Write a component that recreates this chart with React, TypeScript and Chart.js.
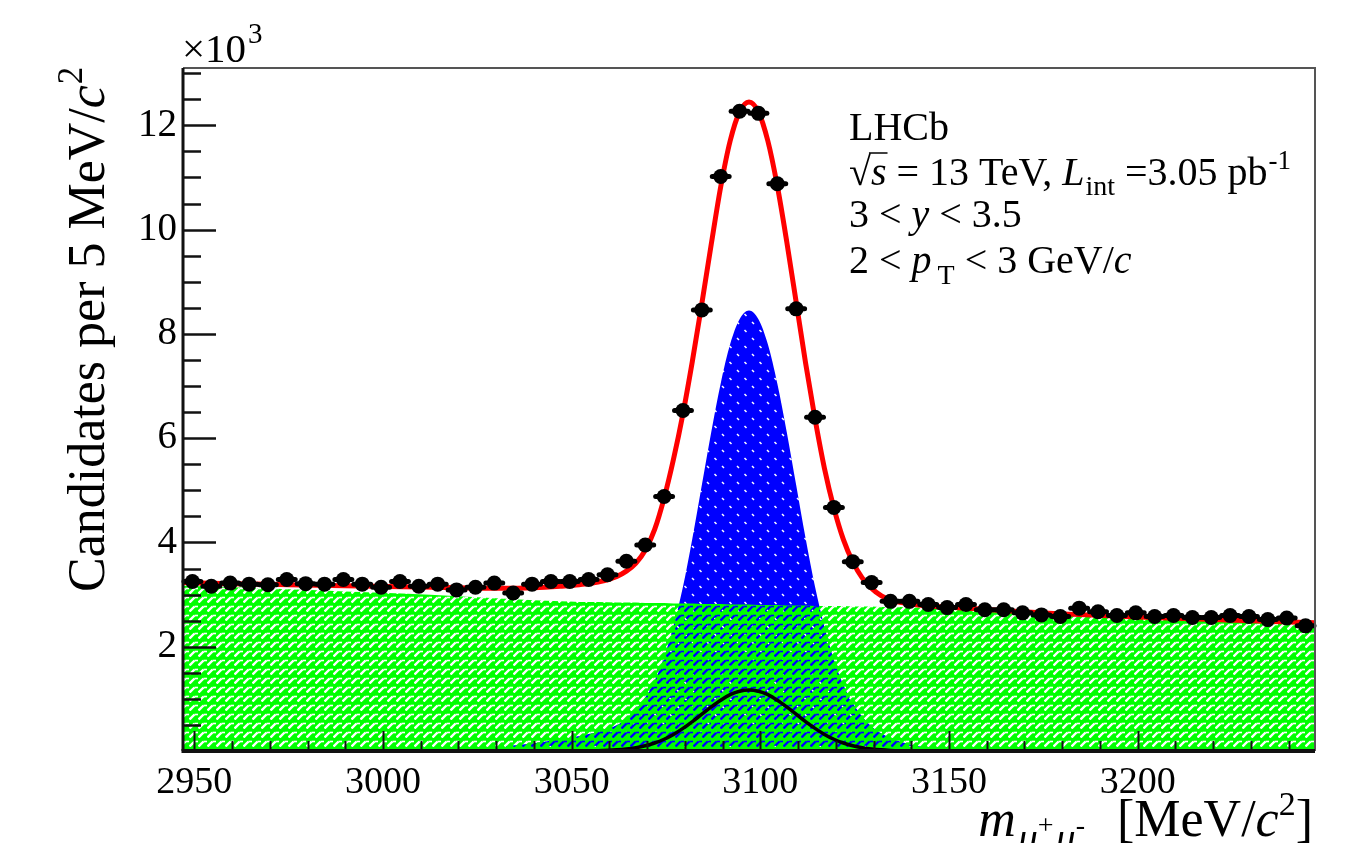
import { useEffect, useRef } from 'react';
import { Chart, registerables } from 'chart.js';

Chart.register(...registerables);

// ---------------- data (y values in units of 10^3 candidates) ----------------
const binCenters = [
  2949.5, 2954.5, 2959.5, 2964.5, 2969.5, 2974.5, 2979.5, 2984.5, 2989.5, 2994.5,
  2999.5, 3004.5, 3009.5, 3014.5, 3019.5, 3024.5, 3029.5, 3034.5, 3039.5, 3044.5,
  3049.5, 3054.5, 3059.5, 3064.5, 3069.5, 3074.5, 3079.5, 3084.5, 3089.5, 3094.5,
  3099.5, 3104.5, 3109.5, 3114.5, 3119.5, 3124.5, 3129.5, 3134.5, 3139.5, 3144.5,
  3149.5, 3154.5, 3159.5, 3164.5, 3169.5, 3174.5, 3179.5, 3184.5, 3189.5, 3194.5,
  3199.5, 3204.5, 3209.5, 3214.5, 3219.5, 3224.5, 3229.5, 3234.5, 3239.5, 3244.5,
];
const candidates = [
  3.25, 3.16, 3.22, 3.2, 3.19, 3.29, 3.21, 3.2, 3.29, 3.2,
  3.14, 3.25, 3.16, 3.2, 3.09, 3.14, 3.22, 3.03, 3.2, 3.25,
  3.25, 3.29, 3.38, 3.64, 3.95, 4.88, 6.53, 8.46, 11.02, 12.27,
  12.23, 10.88, 8.48, 6.4, 4.67, 3.63, 3.23, 2.87, 2.87, 2.81,
  2.75, 2.81, 2.71, 2.71, 2.65, 2.61, 2.58, 2.74, 2.67, 2.6,
  2.65, 2.58, 2.6, 2.56, 2.56, 2.6, 2.58, 2.52, 2.55, 2.4,
];

const fitMass = [
  2947, 2960, 2975, 2990, 3005, 3020, 3030, 3040, 3047, 3052,
  3057, 3062, 3064.5, 3067, 3069.5, 3072, 3074.5, 3077, 3079.5, 3082,
  3084.5, 3087, 3089.5, 3092, 3094.5, 3097, 3099.5, 3102, 3104.5, 3107,
  3109.5, 3112, 3114.5, 3117, 3119.5, 3122, 3124.5, 3127, 3129.5, 3132,
  3134.5, 3137, 3142, 3147, 3155, 3165, 3180, 3200, 3220, 3247,
];
const totalFit = [
  3.23, 3.21, 3.19, 3.17, 3.15, 3.13, 3.12, 3.13, 3.16, 3.19,
  3.24, 3.35, 3.45, 3.6, 3.85, 4.25, 4.85, 5.6, 6.47, 7.48,
  8.58, 9.72, 10.82, 11.7, 12.26, 12.45, 12.26, 11.7, 10.84, 9.77,
  8.61, 7.44, 6.37, 5.42, 4.66, 4.06, 3.63, 3.32, 3.12, 2.98,
  2.9, 2.85, 2.8, 2.77, 2.74, 2.69, 2.63, 2.57, 2.52, 2.46,
];
const combBkg = [
  3.17, 3.14, 3.1, 3.06, 3.02, 2.97, 2.93, 2.89, 2.87, 2.86,
  2.86, 2.85, 2.85, 2.85, 2.84, 2.84, 2.84, 2.83, 2.83, 2.83,
  2.82, 2.82, 2.82, 2.81, 2.81, 2.81, 2.8, 2.8, 2.8, 2.79,
  2.79, 2.79, 2.78, 2.78, 2.78, 2.78, 2.77, 2.77, 2.77, 2.76,
  2.76, 2.76, 2.75, 2.74, 2.72, 2.69, 2.63, 2.57, 2.51, 2.44,
];
const signalJpsi = [
  0, 0.003, 0.006, 0.01, 0.02, 0.045, 0.08, 0.15, 0.23, 0.29,
  0.37, 0.5, 0.62, 0.8, 1.03, 1.35, 1.8, 2.4, 3.15, 4.08,
  5.1, 6.12, 7.05, 7.8, 8.28, 8.45, 8.28, 7.8, 7.05, 6.12,
  5.1, 4.08, 3.15, 2.38, 1.75, 1.27, 0.92, 0.66, 0.47, 0.34,
  0.25, 0.18, 0.09, 0.05, 0.02, 0.008, 0.003, 0, 0, 0,
];
const secondary = [
  0, 0, 0, 0, 0, 0, 0, 0, 0, 0.002,
  0.006, 0.022, 0.038, 0.063, 0.1, 0.153, 0.225, 0.318, 0.433, 0.563,
  0.705, 0.845, 0.975, 1.08, 1.147, 1.17, 1.147, 1.08, 0.975, 0.845,
  0.705, 0.563, 0.433, 0.318, 0.225, 0.153, 0.1, 0.063, 0.038, 0.022,
  0.012, 0.006, 0.001, 0, 0, 0, 0, 0, 0, 0,
];

const xTickLabels = [2950, 3000, 3050, 3100, 3150, 3200];
const yTickLabels = [2, 4, 6, 8, 10, 12];

const X_MIN = 2947;
const X_MAX = 3247;
const Y_MAX = 13.1;
const BIN_HALF = 2.5;
const SERIF = '"Liberation Serif", "Times New Roman", serif';

// ---------------- helpers ----------------
function makeGreenPattern(ctx: CanvasRenderingContext2D) {
  const c = document.createElement('canvas');
  c.width = 9;
  c.height = 9;
  const g = c.getContext('2d')!;
  g.fillStyle = '#00ff00';
  g.fillRect(0, 0, 9, 9);
  g.globalCompositeOperation = 'destination-out';
  g.lineWidth = 2.4;
  g.lineCap = 'butt';
  g.beginPath();
  g.moveTo(0.5, 8.5);
  g.lineTo(5.5, 3.5);
  g.stroke();
  g.lineWidth = 1.6;
  g.beginPath();
  g.moveTo(5.5, 3.5);
  g.lineTo(9, 3.5);
  g.stroke();
  return ctx.createPattern(c, 'repeat')!;
}

function makeBluePattern(ctx: CanvasRenderingContext2D) {
  const c = document.createElement('canvas');
  c.width = 15;
  c.height = 16;
  const g = c.getContext('2d')!;
  g.fillStyle = '#0000ff';
  g.fillRect(0, 0, 15, 16);
  g.globalCompositeOperation = 'destination-out';
  g.lineWidth = 1.5;
  g.beginPath();
  g.moveTo(2, 2);
  g.lineTo(4, 4);
  g.moveTo(9.5, 10);
  g.lineTo(11.5, 12);
  g.stroke();
  return ctx.createPattern(c, 'repeat')!;
}

type Run = { t: string; size: number; italic?: boolean; dy?: number; dx?: number; over?: boolean };

function fontOf(r: Run) {
  return `${r.italic ? 'italic ' : ''}${r.size}px ${SERIF}`;
}

function runsWidth(ctx: CanvasRenderingContext2D, runs: Run[]) {
  let w = 0;
  for (const r of runs) {
    ctx.font = fontOf(r);
    w += (r.dx || 0) + ctx.measureText(r.t).width;
  }
  return w;
}

function drawRuns(ctx: CanvasRenderingContext2D, runs: Run[], x: number, y: number) {
  let cx = x;
  for (const r of runs) {
    ctx.font = fontOf(r);
    cx += r.dx || 0;
    const w = ctx.measureText(r.t).width;
    ctx.fillText(r.t, cx, y + (r.dy || 0));
    if (r.over) {
      ctx.save();
      ctx.lineWidth = 1.5;
      ctx.beginPath();
      ctx.moveTo(cx - 2, y - r.size * 0.8);
      ctx.lineTo(cx + w + 1, y - r.size * 0.8);
      ctx.stroke();
      ctx.restore();
    }
    cx += w;
  }
  return cx;
}

const decorPlugin = {
  id: 'lhcbDecor',
  beforeDatasetDraw(chart: any, args: any) {
    if (args.index !== 0) return;
    const ctx: CanvasRenderingContext2D = chart.ctx;
    const xs = chart.scales.x;
    const ys = chart.scales.y;
    ctx.save();
    ctx.strokeStyle = '#000';
    ctx.lineWidth = 5;
    ctx.lineCap = 'round';
    binCenters.forEach((m, i) => {
      const py = ys.getPixelForValue(candidates[i]);
      ctx.beginPath();
      ctx.moveTo(xs.getPixelForValue(m - BIN_HALF) + 1, py);
      ctx.lineTo(xs.getPixelForValue(m + BIN_HALF) - 1, py);
      ctx.stroke();
    });
    ctx.restore();
  },
  afterDatasetsDraw(chart: any) {
    const ctx: CanvasRenderingContext2D = chart.ctx;
    const { left, right, top, bottom } = chart.chartArea;
    const xs = chart.scales.x;
    const ys = chart.scales.y;
    ctx.save();
    ctx.lineCap = 'butt';
    ctx.strokeStyle = '#555';
    ctx.lineWidth = 2;
    ctx.beginPath();
    ctx.moveTo(left, top);
    ctx.lineTo(right, top);
    ctx.lineTo(right, bottom);
    ctx.stroke();
    ctx.strokeStyle = '#111';
    ctx.lineWidth = 2.5;
    for (let v = 0.5; v <= Y_MAX; v += 0.5) {
      const py = Math.round(ys.getPixelForValue(v)) + 0.5;
      const len = yTickLabels.includes(v) ? 33 : 18;
      ctx.beginPath();
      ctx.moveTo(left, py);
      ctx.lineTo(left + len, py);
      ctx.stroke();
    }
    ctx.lineWidth = 2;
    for (let v = 2950; v <= X_MAX; v += 10) {
      const px = Math.round(xs.getPixelForValue(v)) + 0.5;
      const len = xTickLabels.includes(v) ? 20 : 10;
      ctx.beginPath();
      ctx.moveTo(px, bottom);
      ctx.lineTo(px, bottom - len);
      ctx.stroke();
    }
    ctx.lineWidth = 3;
    ctx.beginPath();
    ctx.moveTo(left, top);
    ctx.lineTo(left, bottom);
    ctx.stroke();
    ctx.lineWidth = 4;
    ctx.beginPath();
    ctx.moveTo(left - 1.5, bottom);
    ctx.lineTo(right, bottom);
    ctx.stroke();
    ctx.restore();
  },
  afterDraw(chart: any) {
    const ctx: CanvasRenderingContext2D = chart.ctx;
    ctx.save();
    ctx.fillStyle = '#000';
    ctx.strokeStyle = '#000';
    ctx.textAlign = 'left';
    ctx.textBaseline = 'alphabetic';

    // exponent
    drawRuns(ctx, [{ t: '\u00d710', size: 41 }, { t: '3', size: 29, dy: -19, dx: 2 }], 182, 62);

    // y title
    ctx.save();
    ctx.translate(104, 592);
    ctx.rotate(-Math.PI / 2);
    drawRuns(ctx, [
      { t: 'Candidates per 5 MeV/', size: 52 },
      { t: 'c', size: 52, italic: true },
      { t: '2', size: 35, dy: -22, dx: 1 },
    ], 0, 0);
    ctx.restore();

    // x title
    const xRuns: Run[] = [
      { t: 'm', size: 52, italic: true },
      { t: '\u03bc', size: 40, italic: true, dy: 15, dx: 2 },
      { t: '+', size: 28, dy: -2 },
      { t: '\u03bc', size: 40, italic: true, dy: 15, dx: 2 },
      { t: '-', size: 28, dy: -2 },
      { t: '[MeV/', size: 52, dx: 32 },
      { t: 'c', size: 52, italic: true },
      { t: '2', size: 34, dy: -21 },
      { t: ']', size: 52 },
    ];
    const xw = runsWidth(ctx, xRuns);
    drawRuns(ctx, xRuns, 1313 - xw, 836);

    // legend block
    const F = 40;
    drawRuns(ctx, [{ t: 'LHCb', size: F }], 849, 140);
    drawRuns(ctx, [
      { t: '\u221a', size: F },
      { t: 's', size: F, italic: true, over: true },
      { t: ' = 13 TeV, ', size: F },
      { t: 'L', size: F, italic: true },
      { t: 'int', size: 28, dy: 10, dx: 1 },
      { t: ' =3.05 pb', size: F },
      { t: '-1', size: 27, dy: -16, dx: 1 },
    ], 849, 185);
    drawRuns(ctx, [
      { t: '3 < ', size: F },
      { t: 'y', size: F, italic: true },
      { t: ' < 3.5', size: F },
    ], 849, 227);
    drawRuns(ctx, [
      { t: '2 < ', size: F },
      { t: 'p', size: F, italic: true },
      { t: 'T', size: 28, dy: 11, dx: 6 },
      { t: ' < 3 GeV/', size: F },
      { t: 'c', size: F, italic: true },
    ], 849, 273);
    ctx.restore();
  },
};

export default function App() {
  const ref = useRef<HTMLCanvasElement>(null);

  useEffect(() => {
    const canvas = ref.current!;
    const ctx = canvas.getContext('2d')!;
    const green = makeGreenPattern(ctx);
    const blue = makeBluePattern(ctx);
    const curve = (ys: number[]) => fitMass.map((x, i) => ({ x, y: ys[i] }));

    const chart = new Chart(canvas, {
      type: 'line',
      data: {
        datasets: [
          {
            label: 'Data',
            data: binCenters.map((x, i) => ({ x, y: candidates[i] })),
            showLine: false,
            pointRadius: 7.5,
            pointBackgroundColor: '#000',
            pointBorderColor: '#000',
            pointBorderWidth: 0,
            order: 0,
          },
          {
            label: 'Total fit',
            data: curve(totalFit),
            borderColor: '#ff0000',
            borderWidth: 5,
            pointRadius: 0,
            fill: false,
            cubicInterpolationMode: 'monotone',
            order: 1,
          },
          {
            label: 'Second component',
            data: curve(secondary),
            borderColor: '#000',
            borderWidth: 3.5,
            pointRadius: 0,
            fill: false,
            cubicInterpolationMode: 'monotone',
            order: 2,
          },
          {
            label: 'Background',
            data: curve(combBkg),
            borderColor: 'rgba(0,0,0,0)',
            borderWidth: 1,
            backgroundColor: green,
            fill: 'origin',
            pointRadius: 0,
            cubicInterpolationMode: 'monotone',
            order: 3,
          },
          {
            label: 'Signal',
            data: curve(signalJpsi),
            borderColor: 'rgba(0,0,0,0)',
            borderWidth: 1,
            backgroundColor: blue,
            fill: 'origin',
            pointRadius: 0,
            cubicInterpolationMode: 'monotone',
            order: 4,
          },
        ],
      },
      options: {
        animation: false,
        responsive: false,
        devicePixelRatio: 1,
        events: [],
        layout: { padding: { top: 68, right: 46, left: 0, bottom: 0 } },
        plugins: { legend: { display: false }, tooltip: { enabled: false } },
        scales: {
          x: {
            type: 'linear',
            min: X_MIN,
            max: X_MAX,
            grid: { display: false },
            border: { display: false },
            afterFit: (s: any) => {
              s.height = 92;
            },
            afterBuildTicks: (s: any) => {
              s.ticks = xTickLabels.map((v) => ({ value: v }));
            },
            ticks: {
              font: { family: SERIF, size: 38 },
              color: '#000',
              padding: 1,
              maxRotation: 0,
              autoSkip: false,
              callback: (v: any) => String(v),
            },
          },
          y: {
            type: 'linear',
            min: 0,
            max: Y_MAX,
            grid: { display: false },
            border: { display: false },
            afterFit: (s: any) => {
              s.width = 183;
            },
            afterBuildTicks: (s: any) => {
              s.ticks = yTickLabels.map((v) => ({ value: v }));
            },
            ticks: {
              font: { family: SERIF, size: 39 },
              color: '#000',
              padding: -2,
              autoSkip: false,
              callback: (v: any) => String(v),
            },
          },
        },
      },
      plugins: [decorPlugin],
    } as any);

    return () => chart.destroy();
  }, []);

  return (
    <div style={{ position: 'fixed', left: 0, top: 0, width: 1361, height: 843, background: '#fff' }}>
      <canvas ref={ref} width={1361} height={843} style={{ display: 'block' }} />
    </div>
  );
}
